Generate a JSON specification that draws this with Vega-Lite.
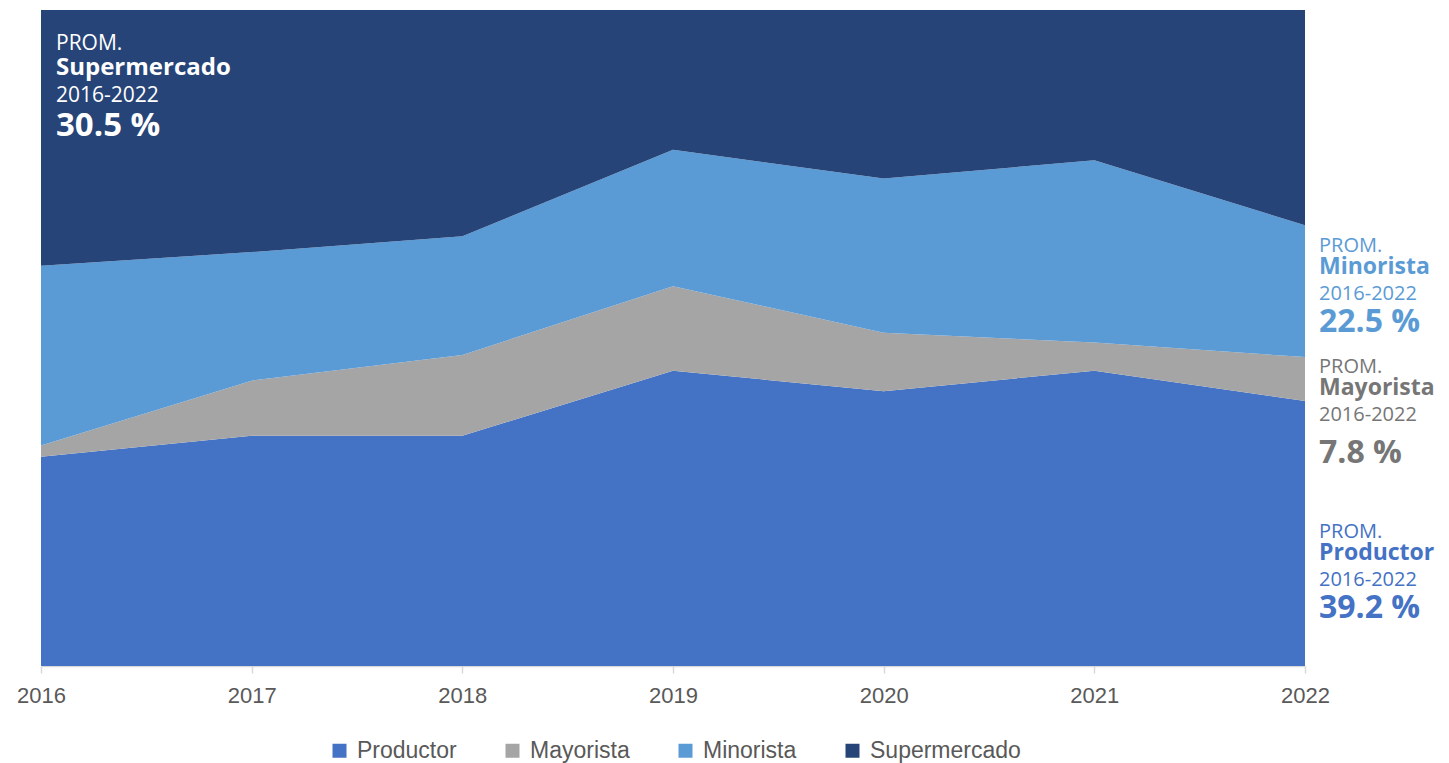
{
  "$schema": "https://vega.github.io/schema/vega-lite/v6.json",
  "width": 1264,
  "height": 656,
  "autosize": {"type": "none"},
  "padding": {"left": 41, "top": 10, "right": 144, "bottom": 97},
  "background": "white",
  "datasets": {
    "canales": [
      {"anio": 2016, "canal": "Productor", "orden": 1, "pct": 31.9},
      {"anio": 2016, "canal": "Mayorista", "orden": 2, "pct": 1.7},
      {"anio": 2016, "canal": "Minorista", "orden": 3, "pct": 27.4},
      {"anio": 2016, "canal": "Supermercado", "orden": 4, "pct": 39.0},
      {"anio": 2017, "canal": "Productor", "orden": 1, "pct": 35.1},
      {"anio": 2017, "canal": "Mayorista", "orden": 2, "pct": 8.4},
      {"anio": 2017, "canal": "Minorista", "orden": 3, "pct": 19.6},
      {"anio": 2017, "canal": "Supermercado", "orden": 4, "pct": 36.9},
      {"anio": 2018, "canal": "Productor", "orden": 1, "pct": 35.1},
      {"anio": 2018, "canal": "Mayorista", "orden": 2, "pct": 12.3},
      {"anio": 2018, "canal": "Minorista", "orden": 3, "pct": 18.1},
      {"anio": 2018, "canal": "Supermercado", "orden": 4, "pct": 34.5},
      {"anio": 2019, "canal": "Productor", "orden": 1, "pct": 45.0},
      {"anio": 2019, "canal": "Mayorista", "orden": 2, "pct": 12.9},
      {"anio": 2019, "canal": "Minorista", "orden": 3, "pct": 20.8},
      {"anio": 2019, "canal": "Supermercado", "orden": 4, "pct": 21.3},
      {"anio": 2020, "canal": "Productor", "orden": 1, "pct": 41.9},
      {"anio": 2020, "canal": "Mayorista", "orden": 2, "pct": 8.9},
      {"anio": 2020, "canal": "Minorista", "orden": 3, "pct": 23.5},
      {"anio": 2020, "canal": "Supermercado", "orden": 4, "pct": 25.7},
      {"anio": 2021, "canal": "Productor", "orden": 1, "pct": 45.0},
      {"anio": 2021, "canal": "Mayorista", "orden": 2, "pct": 4.3},
      {"anio": 2021, "canal": "Minorista", "orden": 3, "pct": 27.8},
      {"anio": 2021, "canal": "Supermercado", "orden": 4, "pct": 22.9},
      {"anio": 2022, "canal": "Productor", "orden": 1, "pct": 40.4},
      {"anio": 2022, "canal": "Mayorista", "orden": 2, "pct": 6.7},
      {"anio": 2022, "canal": "Minorista", "orden": 3, "pct": 20.1},
      {"anio": 2022, "canal": "Supermercado", "orden": 4, "pct": 32.8}
    ],
    "promedios": [
      {"canal": "Supermercado", "anio": 2016, "ancla": 93.9, "prom": "30.5 %"},
      {"canal": "Minorista", "anio": 2022, "ancla": 63.1, "prom": "22.5 %"},
      {"canal": "Mayorista", "anio": 2022, "ancla": 44.7, "prom": "7.8 %"},
      {"canal": "Productor", "anio": 2022, "ancla": 19.5, "prom": "39.2 %"}
    ]
  },
  "layer": [
    {
      "data": {"name": "canales"},
      "mark": {"type": "area", "interpolate": "linear"},
      "encoding": {
        "x": {
          "field": "anio",
          "type": "quantitative",
          "scale": {"domain": [2016, 2022], "nice": false, "zero": false},
          "axis": {
            "values": [2016, 2017, 2018, 2019, 2020, 2021, 2022],
            "format": "d",
            "title": null,
            "grid": false,
            "domainColor": "#d9d9d9",
            "domainWidth": 1.5,
            "tickColor": "#d9d9d9",
            "tickWidth": 1.5,
            "tickSize": 7,
            "labelFont": "Liberation Sans",
            "labelFontSize": 22,
            "labelColor": "#595959",
            "labelPadding": 12,
            "labelFlush": false
          }
        },
        "y": {
          "field": "pct",
          "type": "quantitative",
          "stack": "zero",
          "scale": {"domain": [0, 100], "nice": false},
          "axis": null
        },
        "order": {"field": "orden", "type": "quantitative"},
        "color": {
          "field": "canal",
          "type": "nominal",
          "sort": ["Productor", "Mayorista", "Minorista", "Supermercado"],
          "scale": {
            "domain": ["Productor", "Mayorista", "Minorista", "Supermercado"],
            "range": ["#4472c4", "#a5a5a5", "#5b9bd5", "#264478"]
          },
          "legend": {
            "title": null,
            "orient": "none",
            "legendX": 287,
            "legendY": 729,
            "direction": "horizontal",
            "symbolType": "square",
            "symbolSize": 196,
            "symbolStrokeWidth": 0,
            "symbolOpacity": 1,
            "labelFont": "Liberation Sans",
            "labelFontSize": 23,
            "labelColor": "#595959",
            "labelOffset": 6,
            "columnPadding": 44
          }
        }
      }
    },
    {
      "data": {"name": "promedios"},
      "transform": [{"filter": "datum.canal === 'Supermercado'"}],
      "layer": [
        {
          "mark": {"type": "text", "align": "left", "baseline": "alphabetic", "dx": 15, "font": "Open Sans", "fontSize": 21, "color": "white", "text": "PROM."},
          "encoding": {}
        },
        {
          "mark": {"type": "text", "align": "left", "baseline": "alphabetic", "dx": 15, "dy": 25, "font": "Open Sans", "fontSize": 24, "fontWeight": "bold", "color": "white"},
          "encoding": {"text": {"field": "canal"}}
        },
        {
          "mark": {"type": "text", "align": "left", "baseline": "alphabetic", "dx": 15, "dy": 52, "font": "Open Sans", "fontSize": 21, "color": "white", "text": "2016-2022"},
          "encoding": {}
        },
        {
          "mark": {"type": "text", "align": "left", "baseline": "alphabetic", "dx": 15, "dy": 86, "font": "Open Sans", "fontSize": 33, "fontWeight": "bold", "color": "white"},
          "encoding": {"text": {"field": "prom"}}
        }
      ],
      "encoding": {
        "x": {"field": "anio", "type": "quantitative"},
        "y": {"field": "ancla", "type": "quantitative"}
      }
    },
    {
      "data": {"name": "promedios"},
      "transform": [{"filter": "datum.canal !== 'Supermercado'"}],
      "encoding": {
        "x": {"field": "anio", "type": "quantitative"},
        "y": {"field": "ancla", "type": "quantitative"},
        "color": {
          "field": "canal",
          "type": "nominal",
          "scale": {
            "domain": ["Productor", "Mayorista", "Minorista"],
            "range": ["#4472c4", "#767676", "#5b9bd5"]
          },
          "legend": null
        }
      },
      "layer": [
        {
          "mark": {"type": "text", "align": "left", "baseline": "alphabetic", "dx": 14, "font": "Open Sans", "fontSize": 20, "text": "PROM."},
          "encoding": {}
        },
        {
          "mark": {"type": "text", "align": "left", "baseline": "alphabetic", "dx": 14, "dy": 22, "font": "Open Sans", "fontSize": 23, "fontWeight": "bold"},
          "encoding": {"text": {"field": "canal"}}
        },
        {
          "mark": {"type": "text", "align": "left", "baseline": "alphabetic", "dx": 14, "dy": 48, "font": "Open Sans", "fontSize": 20, "text": "2016-2022"},
          "encoding": {}
        },
        {
          "transform": [{"filter": "datum.canal !== 'Mayorista'"}],
          "mark": {"type": "text", "align": "left", "baseline": "alphabetic", "dx": 14, "dy": 80, "font": "Open Sans", "fontSize": 32, "fontWeight": "bold"},
          "encoding": {"text": {"field": "prom"}}
        },
        {
          "transform": [{"filter": "datum.canal === 'Mayorista'"}],
          "mark": {"type": "text", "align": "left", "baseline": "alphabetic", "dx": 14, "dy": 90, "font": "Open Sans", "fontSize": 32, "fontWeight": "bold"},
          "encoding": {"text": {"field": "prom"}}
        }
      ]
    }
  ],
  "resolve": {"scale": {"color": "independent"}},
  "config": {"view": {"stroke": null}}
}
